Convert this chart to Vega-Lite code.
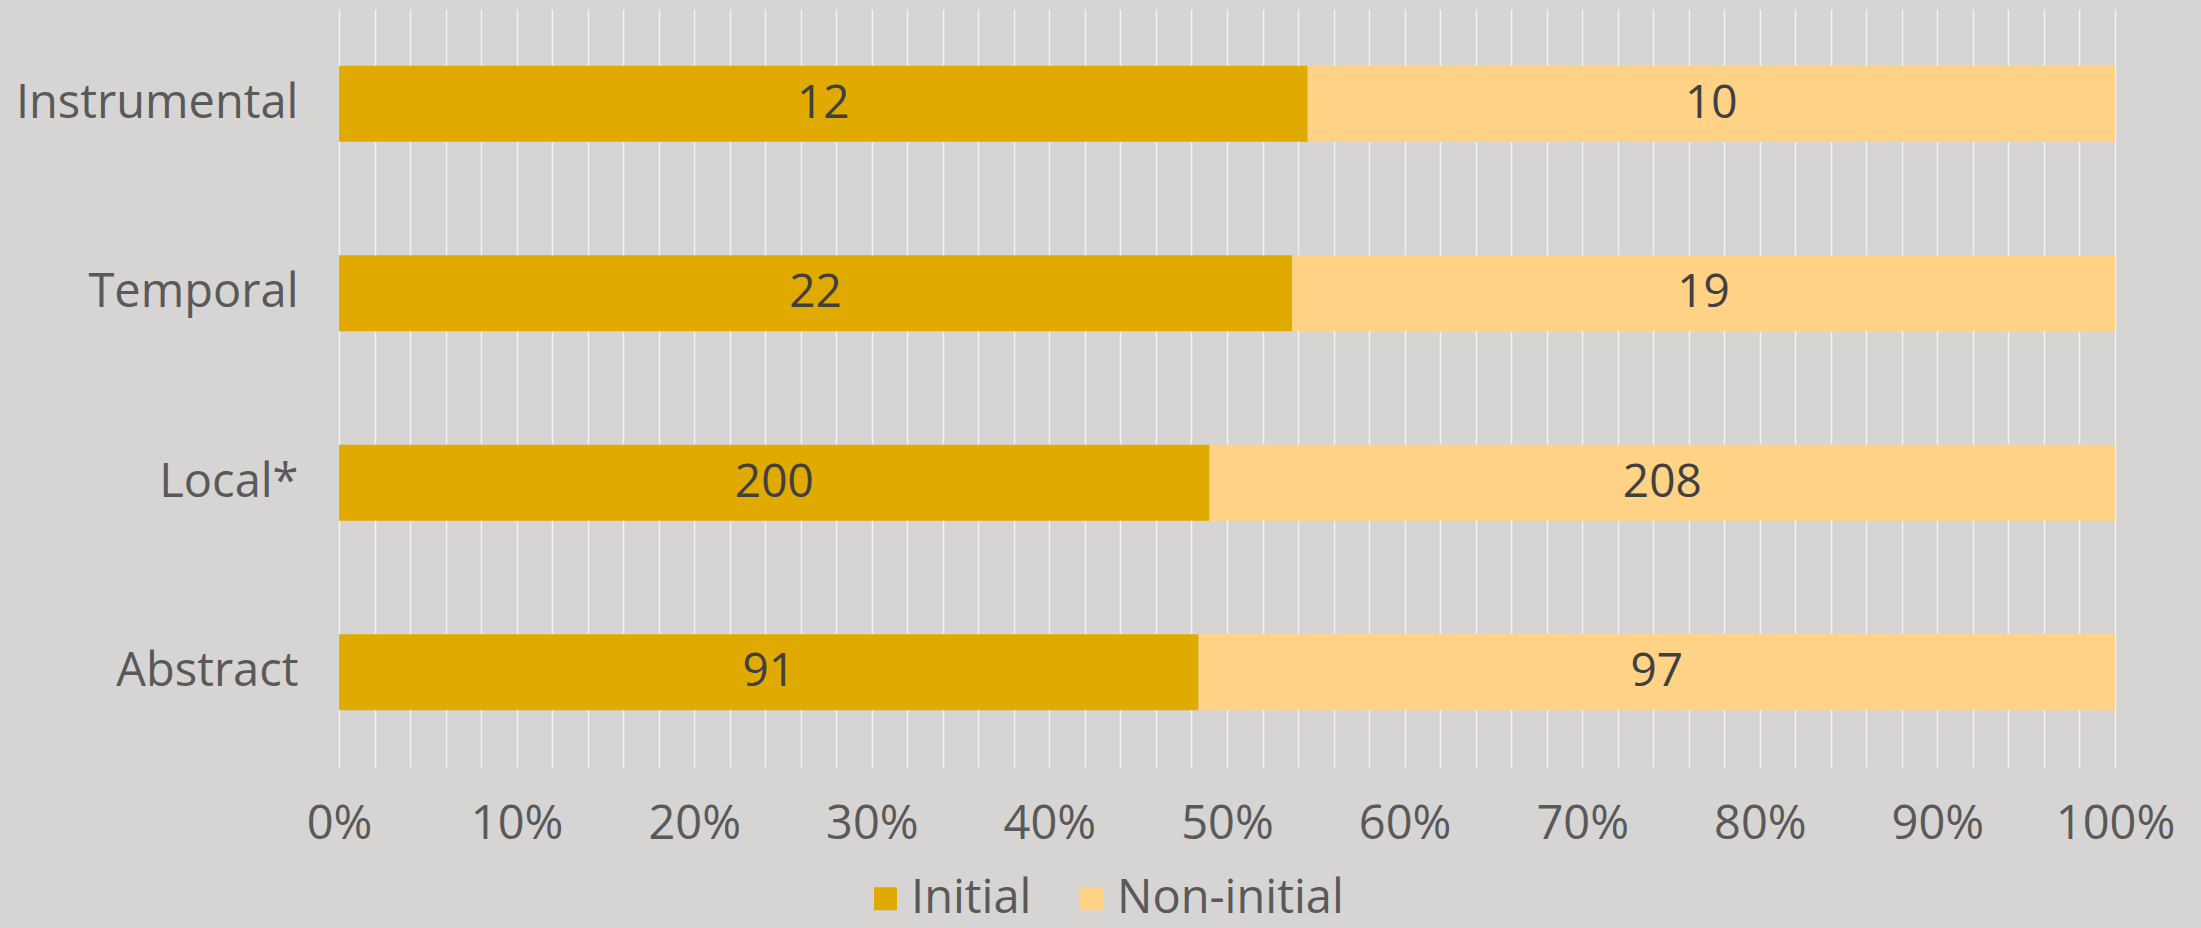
{
  "$schema": "https://vega.github.io/schema/vega-lite/v6.json",
  "autosize": {"type": "none"},
  "width": 1776,
  "height": 758,
  "padding": {"left": 339, "top": 9, "right": 86, "bottom": 161},
  "background": "#D6D5D3",
  "config": {
    "view": {"stroke": null},
    "font": "Open Sans"
  },
  "data": {
    "values": [
      {"cat": "Instrumental", "seg": "Initial", "n": 12},
      {"cat": "Instrumental", "seg": "Non-initial", "n": 10},
      {"cat": "Temporal", "seg": "Initial", "n": 22},
      {"cat": "Temporal", "seg": "Non-initial", "n": 19},
      {"cat": "Local*", "seg": "Initial", "n": 200},
      {"cat": "Local*", "seg": "Non-initial", "n": 208},
      {"cat": "Abstract", "seg": "Initial", "n": 91},
      {"cat": "Abstract", "seg": "Non-initial", "n": 97}
    ]
  },
  "transform": [
    {"stack": "n", "groupby": ["cat"], "sort": [{"field": "seg", "order": "ascending"}], "offset": "normalize", "as": ["x0", "x1"]},
    {"calculate": "(datum.x0 + datum.x1) / 2", "as": "xm"}
  ],
  "encoding": {
    "y": {
      "field": "cat",
      "type": "nominal",
      "sort": ["Instrumental", "Temporal", "Local*", "Abstract"],
      "scale": {"paddingInner": 0.6, "paddingOuter": 0.3},
      "axis": {
        "title": null,
        "ticks": false,
        "tickSize": 0,
        "domain": false,
        "labelFontSize": 47,
        "labelColor": "#595959",
        "labelPadding": 41,
        "labelLimit": 0,
        "labelFont": "Open Sans"
      }
    }
  },
  "layer": [
    {
      "mark": {"type": "bar"},
      "encoding": {
        "x": {
          "field": "x0",
          "type": "quantitative",
          "scale": {"domain": [0, 1], "nice": false},
          "axis": {
            "title": null,
            "values": [0,0.02,0.04,0.06,0.08,0.1,0.12,0.14,0.16,0.18,0.2,0.22,0.24,0.26,0.28,0.3,0.32,0.34,0.36,0.38,0.4,0.42,0.44,0.46,0.48,0.5,0.52,0.54,0.56,0.58,0.6,0.62,0.64,0.66,0.68,0.7,0.72,0.74,0.76,0.78,0.8,0.82,0.84,0.86,0.88,0.9,0.92,0.94,0.96,0.98,1],
            "tickCount": 200,
            "labelExpr": "round(datum.value * 100) % 10 === 0 ? round(datum.value * 100) + '%' : ''",
            "labelOverlap": false,
            "labelFlush": false,
            "ticks": false,
            "tickSize": 0,
            "domain": false,
            "grid": true,
            "gridColor": "#F3F3F3",
            "gridWidth": 1.5,
            "labelFontSize": 47,
            "labelColor": "#595959",
            "labelBaseline": "middle",
            "labelPadding": 57,
            "labelFont": "Open Sans"
          }
        },
        "x2": {"field": "x1"},
        "color": {
          "field": "seg",
          "type": "nominal",
          "scale": {"domain": ["Initial", "Non-initial"], "range": ["#E0AA00", "#FFD285"]},
          "legend": {
            "title": null,
            "orient": "none",
            "direction": "horizontal",
            "legendX": 523,
            "legendY": 866,
            "symbolType": "square",
            "symbolSize": 530,
            "symbolStrokeWidth": 0,
            "labelFontSize": 47,
            "labelColor": "#595959",
            "labelFont": "Open Sans",
            "labelLimit": 0,
            "labelOffset": 2,
            "columnPadding": 36
          }
        }
      }
    },
    {
      "mark": {"type": "text", "fontSize": 46, "color": "#404040", "font": "Open Sans", "baseline": "middle"},
      "encoding": {
        "x": {"field": "xm", "type": "quantitative"},
        "text": {"field": "n", "type": "quantitative"}
      }
    }
  ]
}
